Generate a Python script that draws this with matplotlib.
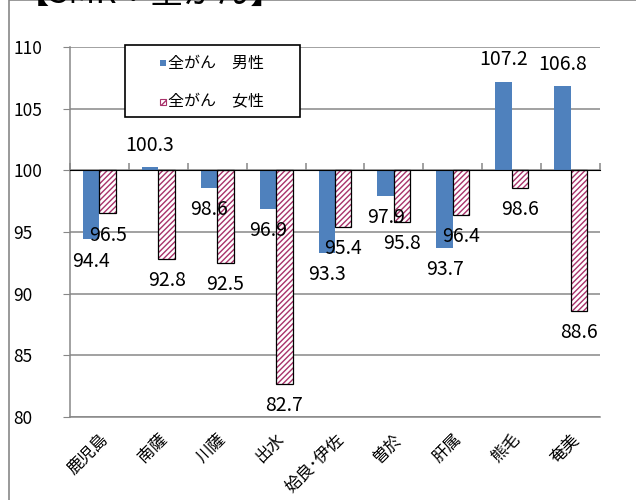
import numpy as np
import matplotlib.pyplot as plt
from matplotlib.patches import Rectangle

plt.rcParams['font.family'] = ['Noto Sans CJK JP', 'DejaVu Sans']

areas = ['鹿児島', '南薩', '川薩', '出水', '姶良･伊佐', '曽於', '肝属', '熊毛', '奄美']
male = [94.4, 100.3, 98.6, 96.9, 93.3, 97.9, 93.7, 107.2, 106.8]
female = [96.5, 92.8, 92.5, 82.7, 95.4, 95.8, 96.4, 98.6, 88.6]
series_names = ['全がん　男性', '全がん　女性']
base = 100
grid_c = '#878787'
blue = '#4F81BD'
hatch_c = '#A8326A'

W, H = 636, 500
fig = plt.figure(figsize=(W / 100, H / 100), dpi=100)
ax = fig.add_axes([70 / W, 1 - 417 / H, 530 / W, 370 / H])


def px(x, y):
    # pixel (from top-left) -> figure fraction
    return x / W, 1 - y / H


# outer frame and cut-off title
fig.patches.append(Rectangle(px(9, 700), 2, 700 / H, transform=fig.transFigure,
                             fill=False, edgecolor=grid_c, lw=1.2))
fig.text(*px(16, 3), '【SMR：全がん】', fontsize=24, va='baseline', ha='left')

x = np.arange(len(areas))
w = 0.28
m_vals = np.array(male) - base
f_vals = np.array(female) - base

mb = ax.bar(x - w / 2, m_vals, w, bottom=base, color=blue, zorder=3)
# female: hatch layer then black outline
ax.bar(x + w / 2, f_vals, w, bottom=base, color='white', edgecolor=hatch_c,
       hatch='//////', linewidth=0, zorder=3)
fb = ax.bar(x + w / 2, f_vals, w, bottom=base, fill=False, edgecolor='black', linewidth=0.9, zorder=4)

ax.bar_label(mb, labels=[f'{v:.1f}' for v in male], padding=8, fontsize=14, zorder=5)
ax.bar_label(fb, labels=[f'{v:.1f}' for v in female], padding=8, fontsize=14, zorder=5)

ax.set_xlim(-0.5, len(areas) - 0.5)
ax.set_ylim(80, 110)
ax.set_yticks(range(80, 111, 5))
ax.yaxis.grid(True, color=grid_c, lw=1.1, zorder=0)
ax.tick_params(axis='y', length=5, color=grid_c, labelsize=12.5, pad=36)
for lab in ax.get_yticklabels():
    lab.set_horizontalalignment('left')

ax.set_xticks(x)
ax.set_xticklabels(areas, rotation=45, ha='right', rotation_mode='anchor', fontsize=12)
ax.tick_params(axis='x', length=0, pad=10)

for s in ['top', 'right']:
    ax.spines[s].set_visible(False)
for s in ['left', 'bottom']:
    ax.spines[s].set_color(grid_c)
    ax.spines[s].set_linewidth(1.1)

# category axis crossing at 100 with boundary ticks
sec = ax.secondary_xaxis((base - 80) / 30)
sec.set_xticks(np.arange(-0.5, len(areas), 1.0))
sec.set_xticklabels([])
sec.tick_params(length=5, color=grid_c, width=1.1)
sec.spines['bottom'].set_color(grid_c)
sec.spines['bottom'].set_linewidth(1.1)
sec.set_zorder(6)

# legend box drawn by hand to match the reference spacing
fig.patches.append(Rectangle(px(125, 117), 175 / W, 72 / H, transform=fig.transFigure,
                             facecolor='white', edgecolor='black', lw=1.2, zorder=10))
fig.patches.append(Rectangle(px(160, 66), 6 / W, 6 / H, transform=fig.transFigure,
                             facecolor=blue, edgecolor='none', zorder=11))
fig.patches.append(Rectangle(px(160, 105), 6 / W, 6 / H, transform=fig.transFigure,
                             facecolor='white', edgecolor=hatch_c, hatch='////', lw=0.8, zorder=11))
fig.text(*px(168, 63), series_names[0], fontsize=11.5, va='center', ha='left', zorder=12)
fig.text(*px(168, 102), series_names[1], fontsize=11.5, va='center', ha='left', zorder=12)

fig.savefig('out.png', dpi=100)
